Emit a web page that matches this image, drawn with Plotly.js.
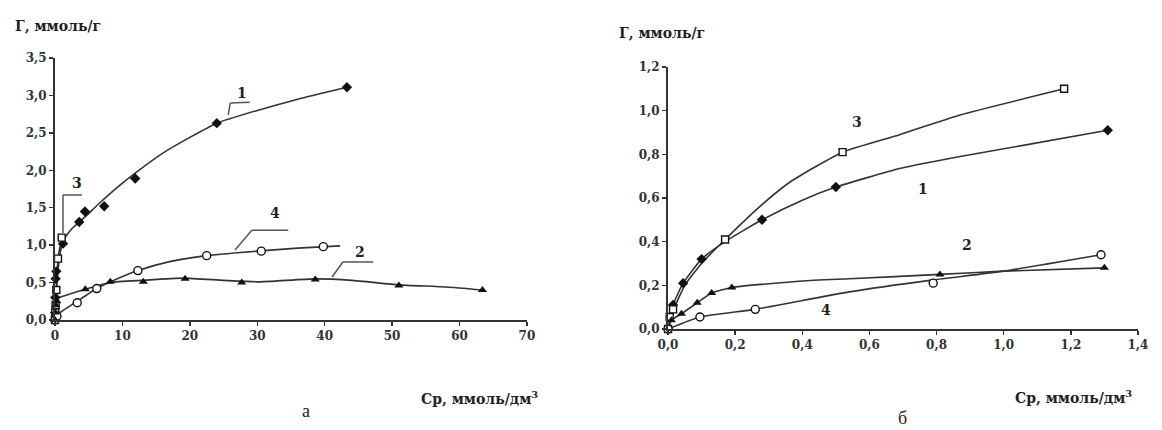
<!DOCTYPE html>
<html>
<head>
<meta charset="utf-8">
<script src="https://cdn.plot.ly/plotly-3.0.1.min.js"></script>
<style>html,body{margin:0;padding:0;background:#fff}#chart{width:1162px;height:430px}</style>
</head>
<body>
<div id="chart"></div>
<script>
// ---- Panel а (left): measured points ----
const a1_x = [0, 0.02, 0.05, 0.1, 0.2, 1.2, 3.6, 4.45, 7.3, 11.9, 24.0, 43.3];
const a1_y = [0, 0.1, 0.3, 0.55, 0.65, 1.02, 1.31, 1.45, 1.52, 1.89, 2.63, 3.11];
const a3_x = [0, 0.05, 0.1, 0.2, 0.45, 1.0];
const a3_y = [0, 0.1, 0.2, 0.4, 0.82, 1.1];
const a4_x = [0, 0.3, 3.3, 6.2, 12.3, 22.5, 30.6, 39.8];
const a4_y = [0, 0.05, 0.23, 0.42, 0.66, 0.86, 0.92, 0.98];
const a2_x = [0, 0.05, 0.1, 0.3, 4.5, 8.2, 13.1, 19.3, 27.7, 38.6, 51.0, 63.4];
const a2_y = [0, 0.1, 0.2, 0.25, 0.41, 0.51, 0.51, 0.55, 0.5, 0.54, 0.46, 0.4];
// ---- Panel а: trend curves ----
const a1c_x = [0, 0.3, 0.7, 1.2, 2.5, 4.5, 6.7, 9.6, 12, 16, 20, 24, 30, 36, 43.3];
const a1c_y = [0, 0.5, 0.85, 1.06, 1.22, 1.38, 1.57, 1.8, 1.97, 2.23, 2.44, 2.63, 2.8, 2.95, 3.11];
const a3c_x = [0, 0.1, 0.3, 0.5, 1.0];
const a3c_y = [0, 0.2, 0.6, 0.85, 1.1];
const a4c_x = [0, 0.5, 3.3, 6.2, 9, 12.3, 17, 22.5, 30, 36, 42.3];
const a4c_y = [0, 0.08, 0.25, 0.42, 0.54, 0.66, 0.78, 0.86, 0.92, 0.96, 0.99];
const a2c_x = [0, 0.2, 2, 4.5, 8.2, 13, 19, 25, 30, 38.6, 44, 51, 58, 63.4];
const a2c_y = [0, 0.28, 0.34, 0.41, 0.5, 0.53, 0.56, 0.53, 0.51, 0.55, 0.53, 0.47, 0.44, 0.4];

// ---- Panel б (right): measured points ----
const b1_x = [0, 0.015, 0.045, 0.1, 0.28, 0.5, 1.31];
const b1_y = [0, 0.11, 0.21, 0.32, 0.5, 0.65, 0.91];
const b3_x = [0, 0.005, 0.015, 0.17, 0.52, 1.18];
const b3_y = [0, 0.055, 0.09, 0.41, 0.81, 1.1];
const b2_x = [0, 0.01, 0.04, 0.087, 0.13, 0.19, 0.81, 1.3];
const b2_y = [0, 0.04, 0.07, 0.12, 0.165, 0.19, 0.25, 0.28];
const b4_x = [0, 0.095, 0.26, 0.79, 1.29];
const b4_y = [0, 0.055, 0.09, 0.21, 0.34];
// ---- Panel б: trend curves ----
const b3c_x = [0, 0.02, 0.05, 0.1, 0.17, 0.28, 0.37, 0.52, 0.69, 0.87, 1.18];
const b3c_y = [0, 0.1, 0.2, 0.3, 0.41, 0.57, 0.68, 0.81, 0.89, 0.98, 1.1];
const b1c_x = [0, 0.015, 0.045, 0.1, 0.17, 0.28, 0.4, 0.5, 0.69, 0.87, 1.31];
const b1c_y = [0, 0.11, 0.21, 0.32, 0.4, 0.5, 0.59, 0.65, 0.735, 0.79, 0.91];
const b2c_x = [0, 0.01, 0.04, 0.087, 0.13, 0.19, 0.4, 0.54, 0.81, 1.0, 1.3];
const b2c_y = [0, 0.04, 0.07, 0.12, 0.165, 0.19, 0.22, 0.23, 0.25, 0.265, 0.28];
const b4c_x = [0, 0.095, 0.26, 0.54, 0.79, 1.0, 1.29];
const b4c_y = [0, 0.055, 0.09, 0.17, 0.225, 0.265, 0.34];

// ---- Text ----
const yTitle = "Г, ммоль/г";
const xTitle = "Ср, ммоль/дм<sup>3</sup>";
const panelA = "а";
const panelB = "б";
const curveNames = ["1", "2", "3", "4"];

const LC = "#333";
function curve(x, y, xa, ya) {
  return {x, y, xaxis: xa, yaxis: ya, mode: "lines", type: "scatter",
    line: {color: LC, width: 1.6, shape: "spline", smoothing: 0.5}, hoverinfo: "skip", showlegend: false};
}
function pts(x, y, xa, ya, sym, size) {
  return {x, y, xaxis: xa, yaxis: ya, mode: "markers", type: "scatter", cliponaxis: false,
    marker: {symbol: sym, size: size, color: "#111", line: {width: 0}}, showlegend: false};
}
function openM(x, y, xa, ya, sym, size) {
  return {x, y, xaxis: xa, yaxis: ya, mode: "markers", type: "scatter", cliponaxis: false,
    marker: {symbol: sym, size: size, color: "#fff", line: {color: "#111", width: 1.4}}, showlegend: false};
}

const data = [
  curve(a1c_x, a1c_y, "x", "y"), curve(a3c_x, a3c_y, "x", "y"),
  curve(a4c_x, a4c_y, "x", "y"), curve(a2c_x, a2c_y, "x", "y"),
  pts(a1_x, a1_y, "x", "y", "diamond", 8),
  openM(a3_x, a3_y, "x", "y", "square", 7),
  openM(a4_x, a4_y, "x", "y", "circle", 8),
  pts(a2_x, a2_y, "x", "y", "triangle-up", 8),
  curve(b3c_x, b3c_y, "x2", "y2"), curve(b1c_x, b1c_y, "x2", "y2"),
  curve(b2c_x, b2c_y, "x2", "y2"), curve(b4c_x, b4c_y, "x2", "y2"),
  pts(b1_x, b1_y, "x2", "y2", "diamond", 8),
  openM(b3_x, b3_y, "x2", "y2", "square", 7),
  pts(b2_x, b2_y, "x2", "y2", "triangle-up", 8),
  openM(b4_x, b4_y, "x2", "y2", "circle", 8)
];

const SF = "DejaVu Serif, serif";
const tickFont = {family: SF, size: 12, color: "#333", weight: "bold"};
function ax(extra) {
  return Object.assign({showgrid: false, zeroline: false, showline: true, linecolor: LC, linewidth: 2,
    ticks: "outside", ticklen: 4, tickwidth: 1.5, tickcolor: LC, tickfont: tickFont, fixedrange: true}, extra);
}
function lab(text, x, y, xref, yref, size, bold, fam) {
  return {text: bold ? "<b>" + text + "</b>" : text, x, y, xref, yref, showarrow: false,
    yanchor: "middle", font: {family: fam || SF, size: size, color: "#222"}};
}
const annotations = [
  Object.assign(lab(yTitle, 0.011, 0.940, "paper", "paper", 14, true), {xanchor: "left"}),
  Object.assign(lab(yTitle, 0.531, 0.923, "paper", "paper", 14, true), {xanchor: "left"}),
  Object.assign(lab(xTitle, 0.361, 0.074, "paper", "paper", 14, true), {xanchor: "left"}),
  Object.assign(lab(xTitle, 0.872, 0.077, "paper", "paper", 14, true), {xanchor: "left"}),
  lab(panelA, 0.258, 0.044, "paper", "paper", 18, false, "Liberation Serif, serif"),
  lab(panelB, 0.782, 0.027, "paper", "paper", 18, false, "Liberation Serif, serif"),
  lab(curveNames[0], 27.7, 3.03, "x", "y", 14, true),
  lab(curveNames[2], 3.3, 1.83, "x", "y", 14, true),
  lab(curveNames[3], 32.6, 1.43, "x", "y", 14, true),
  lab(curveNames[1], 45.2, 0.91, "x", "y", 14, true),
  lab(curveNames[2], 0.564, 0.95, "x2", "y2", 14, true),
  lab(curveNames[0], 0.76, 0.64, "x2", "y2", 14, true),
  lab(curveNames[1], 0.89, 0.385, "x2", "y2", 14, true),
  lab(curveNames[3], 0.47, 0.087, "x2", "y2", 14, true)
];
function seg(x0, y0, x1, y1) {
  return {type: "line", xref: "x", yref: "y", x0, y0, x1, y1, line: {color: "#555", width: 1.5}};
}
const shapes = [
  seg(1.19, 1.16, 1.19, 1.67), seg(1.19, 1.67, 4.0, 1.67),
  seg(25.7, 2.74, 26.0, 2.90), seg(26.0, 2.90, 28.9, 2.91),
  seg(26.7, 0.935, 29.2, 1.20), seg(29.2, 1.20, 34.6, 1.20),
  seg(41.1, 0.574, 42.7, 0.775), seg(42.7, 0.775, 47.2, 0.775)
];

const layout = {
  width: 1162, height: 430, margin: {l: 0, r: 0, t: 0, b: 0},
  paper_bgcolor: "#fff", plot_bgcolor: "#fff", separators: ", ",
  xaxis: ax({domain: [0.0473, 0.4535], range: [0, 70], tickvals: [0,10,20,30,40,50,60,70], anchor: "y"}),
  yaxis: ax({domain: [0.2558, 0.8651], range: [0, 3.5], tickvals: [0,0.5,1,1.5,2,2.5,3,3.5], tickformat: ".1f", anchor: "x"}),
  xaxis2: ax({domain: [0.5749, 0.9793], range: [0, 1.4], tickvals: [0,0.2,0.4,0.6,0.8,1,1.2,1.4], tickformat: ".1f", anchor: "y2"}),
  yaxis2: ax({domain: [0.2349, 0.8442], range: [0, 1.2], tickvals: [0,0.2,0.4,0.6,0.8,1,1.2], tickformat: ".1f", anchor: "x2"}),
  annotations, shapes
};
Plotly.newPlot("chart", data, layout, {staticPlot: true, displayModeBar: false});
</script>
</body>
</html>
